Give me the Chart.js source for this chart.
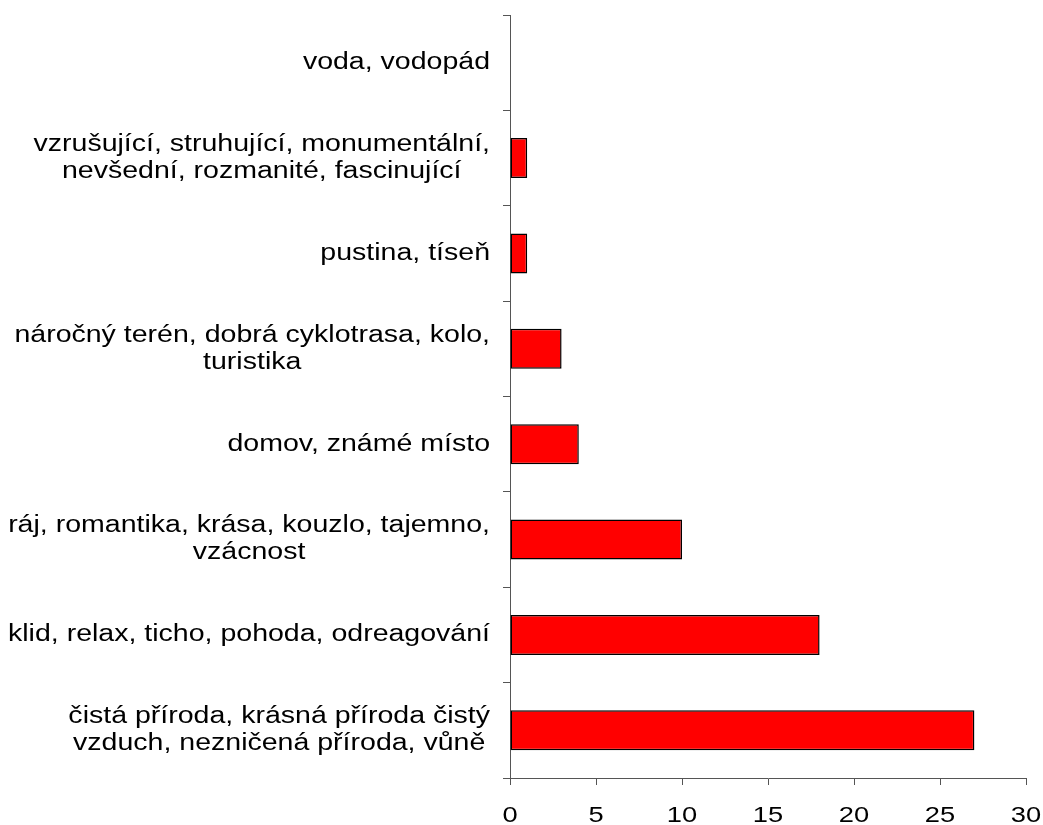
<!DOCTYPE html>
<html>
<head>
<meta charset="utf-8">
<script src="https://cdn.jsdelivr.net/npm/chart.js@4/dist/chart.umd.min.js"></script>
<style>
  html, body { margin: 0; padding: 0; background: #fff; }
</style>
</head>
<body>
<canvas id="chart" width="1043" height="825"></canvas>
<script>
// categories, top to bottom as in the picture
const categories = [
    ['voda, vodopád'],
    ['vzrušující, struhující, monumentální,', 'nevšední, rozmanité, fascinující'],
    ['pustina, tíseň'],
    ['náročný terén, dobrá cyklotrasa, kolo,', 'turistika'],
    ['domov, známé místo'],
    ['ráj, romantika, krása, kouzlo, tajemno,', 'vzácnost'],
    ['klid, relax, ticho, pohoda, odreagování'],
    ['čistá příroda, krásná příroda čistý', 'vzduch, nezničená příroda, vůně']
];
const counts = [0, 1, 1, 3, 4, 10, 18, 27];
const xTicks = [0, 5, 10, 15, 20, 25, 30];

const fontFamily = '"Liberation Sans", Arial, sans-serif';
// the source picture is stretched sideways, so text is drawn wider than tall
const stretch = 1.24;

function wideText(ctx, text, x, y) {
    ctx.save();
    ctx.translate(x, y);
    ctx.scale(stretch, 1);
    ctx.fillText(text, 0, 0);
    ctx.restore();
}

// draws axis labels: category blocks right aligned, lines centred within block
const axisLabels = {
    id: 'axisLabels',
    afterDraw(chart) {
        const ctx = chart.ctx;
        const { x, y } = chart.scales;
        const right = chart.chartArea.left - 20;
        const lineH = 27;
        ctx.save();
        ctx.fillStyle = '#000';
        ctx.textAlign = 'center';

        ctx.font = '23px ' + fontFamily;
        ctx.textBaseline = 'middle';
        categories.forEach((lines, i) => {
            const w = Math.max(...lines.map(l => ctx.measureText(l).width)) * stretch;
            const cx = right - w / 2;
            const cy = y.getPixelForValue(i);
            lines.forEach((l, j) => {
                wideText(ctx, l, cx, cy + (j - (lines.length - 1) / 2) * lineH);
            });
        });

        ctx.font = '22px ' + fontFamily;
        ctx.textBaseline = 'alphabetic';
        xTicks.forEach(v => {
            wideText(ctx, String(v), x.getPixelForValue(v), y.bottom + 44);
        });
        ctx.restore();
    }
};

new Chart(document.getElementById('chart').getContext('2d'), {
    type: 'bar',
    data: {
        labels: categories,
        datasets: [{
            data: counts,
            backgroundColor: '#ff0000',
            borderColor: '#000',
            borderWidth: 1.5,
            borderSkipped: false,
            categoryPercentage: 1,
            barPercentage: 0.42
        }]
    },
    options: {
        indexAxis: 'y',
        responsive: false,
        animation: false,
        layout: { padding: { top: 15, right: 17, left: 0, bottom: 0 } },
        plugins: {
            legend: { display: false },
            tooltip: { enabled: false }
        },
        scales: {
            x: {
                min: 0,
                max: 30,
                afterBuildTicks: (scale) => { scale.ticks = xTicks.map(v => ({ value: v })); },
                afterFit: (scale) => { scale.height = 47; },
                border: { color: '#555', width: 1 },
                grid: { drawOnChartArea: false, tickLength: 7, color: '#555' },
                ticks: { display: false }
            },
            y: {
                afterFit: (scale) => { scale.width = 510; },
                border: { color: '#555', width: 1 },
                grid: { drawOnChartArea: false, tickLength: 7, color: '#555', offset: true },
                ticks: { display: false }
            }
        }
    },
    plugins: [axisLabels]
});
</script>
</body>
</html>
